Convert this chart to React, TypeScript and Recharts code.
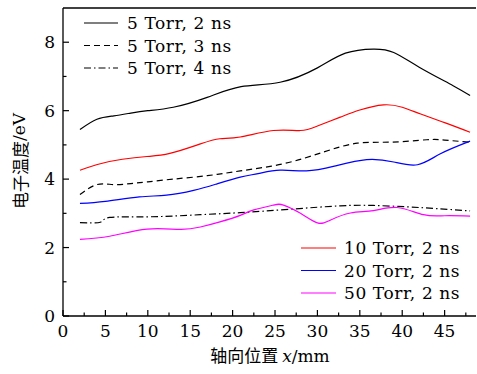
import React from 'react';
import { LineChart, Line, XAxis, YAxis, ReferenceLine } from 'recharts';

const W = 477;
const H = 374;
const PLOT_LEFT = 63;
const PLOT_TOP = 8;
const PLOT_BOTTOM = 316;
const X_MAX = 48.7;
const Y_MAX = 9;

const xTicks = [0, 2.5, 5, 7.5, 10, 12.5, 15, 17.5, 20, 22.5, 25, 27.5, 30, 32.5, 35, 37.5, 40, 42.5, 45, 47.5];
const yTicks = [0, 1, 2, 3, 4, 5, 6, 7, 8];

const torr5ns2X = [2, 4, 6, 8, 10, 13, 17, 21, 25.6, 30, 33.3, 36.6, 39, 42, 46, 48];
const torr5ns2Y = [5.45, 5.75, 5.85, 5.93, 6.0, 6.1, 6.39, 6.7, 6.83, 7.25, 7.68, 7.8, 7.7, 7.27, 6.73, 6.44];

const torr5ns3X = [2, 4, 6, 8, 10, 13, 17, 20.9, 26, 30.7, 34.7, 38.6, 42.9, 45, 48];
const torr5ns3Y = [3.55, 3.84, 3.84, 3.87, 3.92, 4.0, 4.1, 4.24, 4.45, 4.79, 5.05, 5.08, 5.15, 5.14, 5.08];

const torr5ns4X = [2, 4.4, 5.5, 10.3, 16.2, 20.9, 26.8, 32.7, 36.6, 40.5, 44, 48];
const torr5ns4Y = [2.73, 2.74, 2.88, 2.9, 2.96, 3.02, 3.12, 3.22, 3.23, 3.19, 3.14, 3.07];

const torr10X = [2, 4.4, 7, 9.9, 12.6, 16.2, 18.5, 20.9, 24.8, 28, 30, 32.7, 35, 37.8, 40, 42.1, 45, 48];
const torr10Y = [4.26, 4.45, 4.58, 4.66, 4.75, 5.03, 5.18, 5.23, 5.42, 5.42, 5.55, 5.81, 6.02, 6.17, 6.1, 5.91, 5.65, 5.37];

const torr20X = [2, 5, 9, 12.2, 15.4, 18, 20.9, 23, 25.6, 28.7, 32, 35.8, 39, 41.8, 44.5, 48];
const torr20Y = [3.29, 3.35, 3.48, 3.53, 3.67, 3.85, 4.06, 4.16, 4.26, 4.24, 4.38, 4.57, 4.5, 4.42, 4.74, 5.11];

const torr50X = [2, 5.5, 9.9, 13.8, 16.2, 18.5, 20.9, 22.5, 24.8, 26, 28, 30, 31.5, 33.9, 36.6, 39.4, 42.5, 45, 48];
const torr50Y = [2.24, 2.33, 2.54, 2.53, 2.6, 2.75, 2.94, 3.1, 3.24, 3.24, 3.0, 2.72, 2.8, 3.01, 3.08, 3.17, 2.96, 2.93, 2.92];

const zip = (xs: number[], ys: number[]) => xs.map((x, i) => ({ x, y: ys[i] }));

const series = [
  { name: '5 Torr, 2 ns', data: zip(torr5ns2X, torr5ns2Y), color: '#000000', dash: undefined as string | undefined, group: 1 },
  { name: '5 Torr, 3 ns', data: zip(torr5ns3X, torr5ns3Y), color: '#000000', dash: '6 4', group: 1 },
  { name: '5 Torr, 4 ns', data: zip(torr5ns4X, torr5ns4Y), color: '#000000', dash: '7 3 1.5 3', group: 1 },
  { name: '10 Torr, 2 ns', data: zip(torr10X, torr10Y), color: '#ff0000', dash: undefined, group: 2 },
  { name: '20 Torr, 2 ns', data: zip(torr20X, torr20Y), color: '#0000ff', dash: undefined, group: 2 },
  { name: '50 Torr, 2 ns', data: zip(torr50X, torr50Y), color: '#ff00ff', dash: undefined, group: 2 },
];

const FONT = '"DejaVu Serif", serif';

const XTick = (props: any) => {
  const { x, payload } = props;
  const v = payload.value as number;
  const major = v % 5 === 0;
  return (
    <g>
      <line x1={x} x2={x} y1={PLOT_BOTTOM} y2={PLOT_BOTTOM - (major ? 6 : 3.5)} stroke="#000" strokeWidth={1.2} />
      {major && (
        <text x={x} y={PLOT_BOTTOM + 21} textAnchor="middle" fontFamily={FONT} fontSize={17} fill="#000">
          {v}
        </text>
      )}
    </g>
  );
};

const YTick = (props: any) => {
  const { y, payload } = props;
  const v = payload.value as number;
  const major = v % 2 === 0;
  return (
    <g>
      <line x1={PLOT_LEFT} x2={PLOT_LEFT + (major ? 6 : 3.5)} y1={y} y2={y} stroke="#000" strokeWidth={1.2} />
      {major && (
        <text x={55} y={y} dy="0.36em" textAnchor="end" fontFamily={FONT} fontSize={17} fill="#000">
          {v}
        </text>
      )}
    </g>
  );
};

export default function App() {
  const g1 = series.filter((s) => s.group === 1);
  const g2 = series.filter((s) => s.group === 2);
  return (
    <div style={{ position: 'absolute', left: 0, top: 0, width: W, height: H, background: '#fff' }}>
      <LineChart width={W} height={H} margin={{ top: PLOT_TOP, right: 1, bottom: 28, left: 8 }}>
        <XAxis
          type="number"
          dataKey="x"
          domain={[0, X_MAX]}
          ticks={xTicks}
          interval={0}
          tick={<XTick />}
          tickLine={false}
          tickSize={0}
          height={30}
          axisLine={{ stroke: '#000', strokeWidth: 1.3 }}
          allowDataOverflow
        />
        <YAxis
          type="number"
          dataKey="y"
          domain={[0, Y_MAX]}
          ticks={yTicks}
          interval={0}
          tick={<YTick />}
          tickLine={false}
          tickSize={0}
          width={55}
          axisLine={{ stroke: '#000', strokeWidth: 1.3 }}
          allowDataOverflow
        />
        <ReferenceLine y={Y_MAX} stroke="#000" strokeWidth={1.3} />
        {series.map((s) => (
          <Line
            key={s.name}
            data={s.data}
            dataKey="y"
            type="natural"
            stroke={s.color}
            strokeWidth={1.2}
            strokeDasharray={s.dash}
            dot={false}
            activeDot={false}
            isAnimationActive={false}
          />
        ))}
      </LineChart>
      <svg width={W} height={H} style={{ position: 'absolute', left: 0, top: 0, pointerEvents: 'none' }}>
        {g1.map((s, i) => {
          const y = 23 + i * 22.5;
          return (
            <g key={s.name}>
              <line x1={84} x2={118} y1={y} y2={y} stroke={s.color} strokeWidth={1.2} strokeDasharray={s.dash} />
              <text x={127} y={y} dy="0.36em" fontFamily={FONT} fontSize={17} letterSpacing={0.6} fill="#000">
                {s.name}
              </text>
            </g>
          );
        })}
        {g2.map((s, i) => {
          const y = 248 + i * 22.5;
          return (
            <g key={s.name}>
              <line x1={301} x2={336} y1={y} y2={y} stroke={s.color} strokeWidth={1.2} strokeDasharray={s.dash} />
              <text x={344} y={y} dy="0.36em" fontFamily={FONT} fontSize={17} letterSpacing={0.6} fill="#000">
                {s.name}
              </text>
            </g>
          );
        })}
        <text
          x={19}
          y={161}
          textAnchor="middle"
          dominantBaseline="central"
          transform="rotate(-90 19 161)"
          fontSize={17}
          fill="#000"
        >
          <tspan fontFamily='"Noto Sans CJK SC", sans-serif'>电子温度</tspan>
          <tspan fontFamily={FONT}>/eV</tspan>
        </text>
        <text x={270} y={362} textAnchor="middle" fontSize={17} fill="#000">
          <tspan fontFamily='"Noto Sans CJK SC", sans-serif'>轴向位置 </tspan>
          <tspan fontFamily={FONT} fontStyle="italic">x</tspan>
          <tspan fontFamily={FONT}>/mm</tspan>
        </text>
      </svg>
    </div>
  );
}
